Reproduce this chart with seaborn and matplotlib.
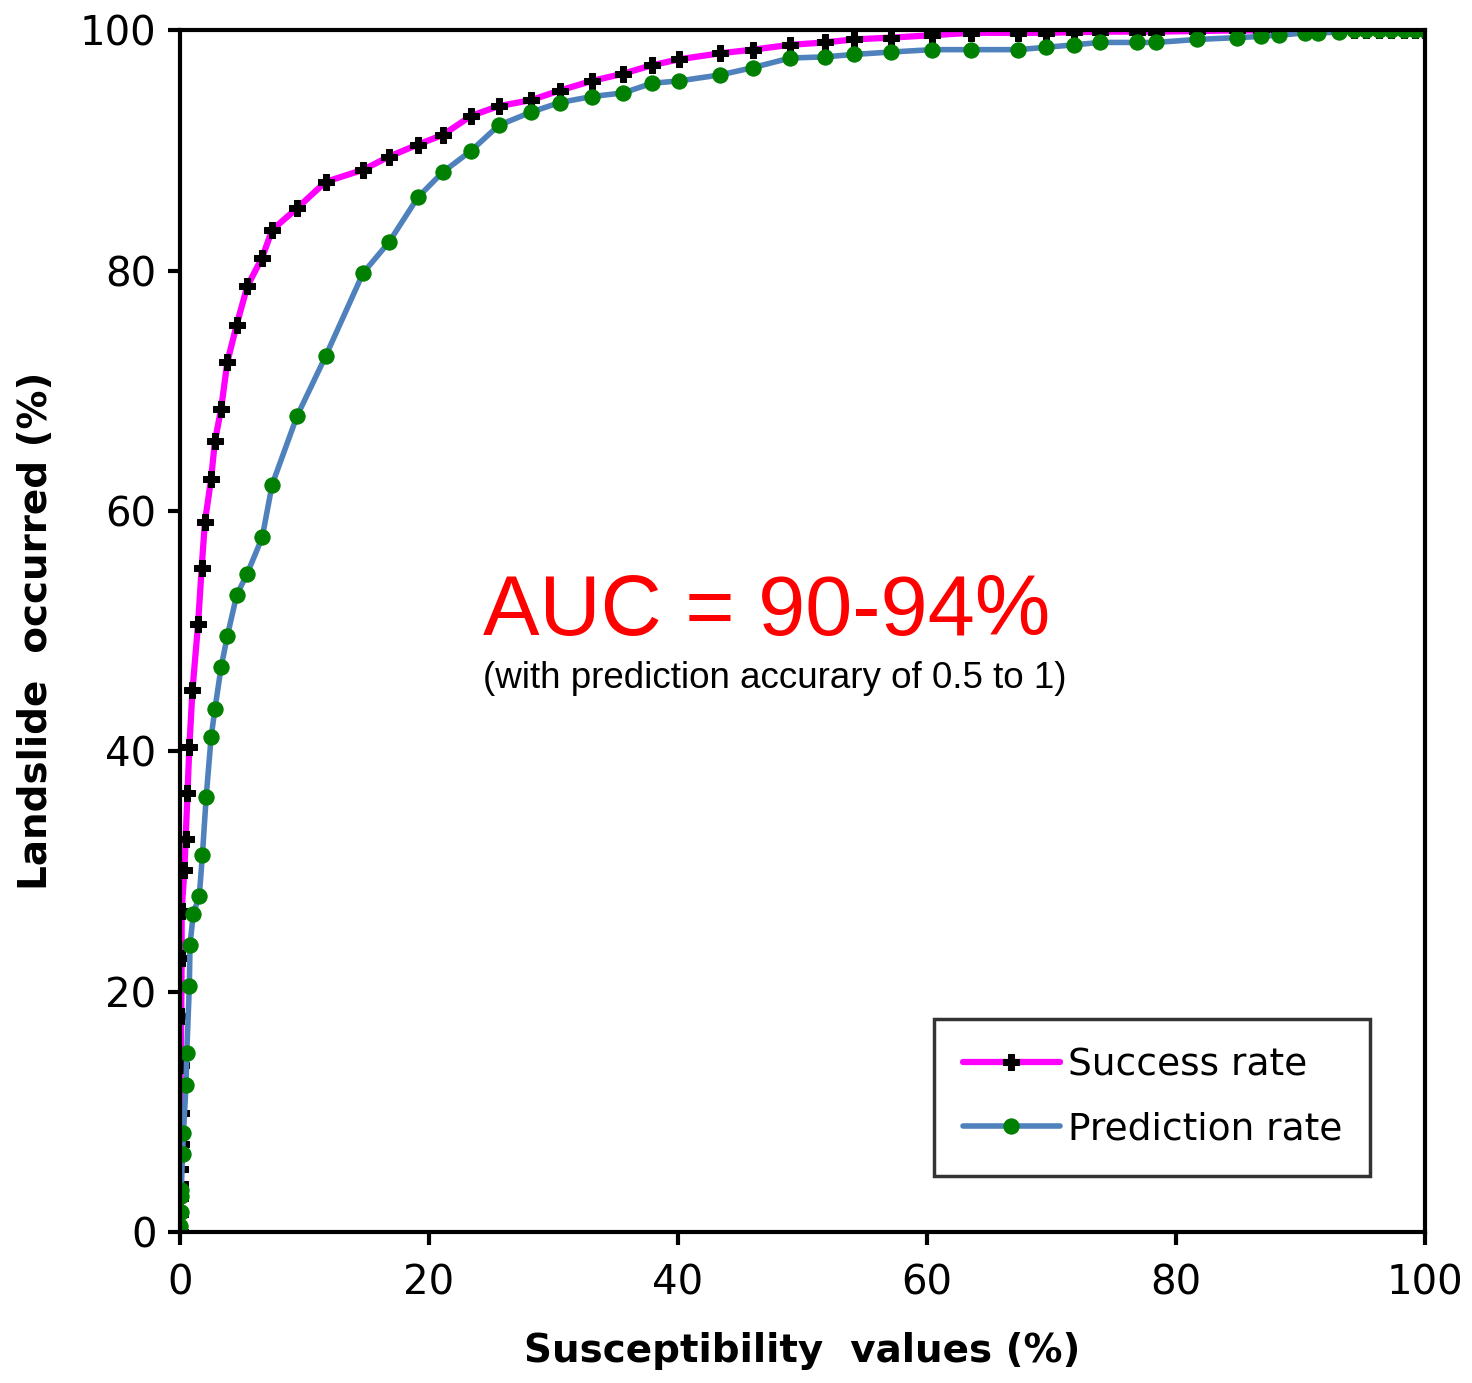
import seaborn as sns
import matplotlib.pyplot as plt
import pandas as pd
import numpy as np

sns.set_theme(style="white")
plt.rcParams["font.family"] = ["DejaVu Sans"]

# Curva de éxito (success rate)
success_x = [0, 0, 0, 0, 0, 0.05, 0.05, 0.05, 0.1, 0.13, 0.13, 0.35, 0.45, 0.6, 0.75, 1.0,
             1.45, 1.74, 2.0, 2.5, 2.8, 3.3, 3.8, 4.55, 5.4, 6.6, 7.4, 9.4, 11.7, 14.7, 16.8,
             19.1, 21.1, 23.4, 25.6, 28.2, 30.5, 33.1, 35.6, 37.9, 40.1, 43.4, 46.0, 49.0,
             51.8, 54.1, 57.1, 60.4, 63.5, 67.3, 69.6, 71.8, 73.9, 76.9, 78.4, 81.7, 84.9,
             86.8, 88.3, 90.4, 91.4, 93.1, 94.3, 95.3, 96.3, 97.3, 98.3, 99.2, 100]
success_y = [0, 1.5, 2.8, 4.0, 5.2, 7.3, 9.9, 13.9, 18.0, 22.8, 26.7, 30.1, 32.7, 36.5, 40.4,
             45.1, 50.6, 55.3, 59.1, 62.7, 65.8, 68.5, 72.4, 75.5, 78.7, 81.1, 83.4, 85.2,
             87.4, 88.4, 89.5, 90.5, 91.3, 92.9, 93.7, 94.2, 95.0, 95.8, 96.4, 97.1, 97.6,
             98.1, 98.4, 98.8, 99.0, 99.25, 99.4, 99.6, 99.8, 99.8, 99.8, 99.85, 99.9, 99.9,
             99.9, 99.95, 100, 100, 100, 100, 100, 100, 100, 100, 100, 100, 100, 100, 100]

# Curva de predicción (prediction rate)
pred_x = [0, 0, 0.05, 0.1, 0.1, 0.2, 0.27, 0.48, 0.54, 0.75, 0.8, 1.07, 1.55, 1.8, 2.1, 2.5,
          2.8, 3.3, 3.8, 4.55, 5.4, 6.6, 7.4, 9.4, 11.7, 14.7, 16.8, 19.1, 21.1, 23.4, 25.6,
          28.2, 30.5, 33.1, 35.6, 37.9, 40.1, 43.4, 46.0, 49.0, 51.8, 54.1, 57.1, 60.4, 63.5,
          67.3, 69.6, 71.8, 73.9, 76.9, 78.4, 81.7, 84.9, 86.8, 88.3, 90.4, 91.4, 93.1, 94.3,
          95.3, 96.3, 97.3, 98.3, 99.2, 100]
pred_y = [0, 0.5, 1.7, 3.0, 3.5, 6.5, 8.2, 12.2, 14.9, 20.5, 23.9, 26.5, 28.0, 31.4, 36.2,
          41.2, 43.5, 47.0, 49.6, 53.0, 54.8, 57.8, 62.2, 67.9, 72.9, 79.8, 82.4, 86.1, 88.2,
          90.0, 92.1, 93.2, 94.0, 94.5, 94.8, 95.6, 95.8, 96.3, 96.9, 97.7, 97.8, 98.0, 98.2,
          98.4, 98.4, 98.4, 98.6, 98.8, 99.0, 99.0, 99.0, 99.25, 99.4, 99.5, 99.6, 99.8, 99.8,
          99.85, 100, 100, 100, 100, 100, 100, 100]

ticks = [0, 20, 40, 60, 80, 100]

fig = plt.figure(figsize=(14.72, 13.83), dpi=100)
ax = fig.add_axes([0.1223, 0.1092, 0.8457, 0.8688])

sns.lineplot(x=success_x, y=success_y, estimator=None, sort=False, ax=ax,
             color="#FF00FF", linewidth=4.5, marker="P", markersize=11,
             markerfacecolor="black", markeredgecolor="black", label="Success rate")
sns.lineplot(x=pred_x, y=pred_y, estimator=None, sort=False, ax=ax,
             color="#4F81BD", linewidth=4, marker="o", markersize=11,
             markerfacecolor="#008000", markeredgecolor="#008000", label="Prediction rate")

ax.set_xlim(0, 100)
ax.set_ylim(0, 100)
ax.set_xticks(ticks)
ax.set_yticks(ticks)
ax.tick_params(axis="both", direction="out", length=9, width=3, color="black",
               labelcolor="black", labelsize=29, left=True, bottom=True)
ax.tick_params(axis="x", pad=14)
ax.tick_params(axis="y", pad=8)
for s in ax.spines.values():
    s.set_color("black")
    s.set_linewidth(3)

ax.set_xlabel("Susceptibility  values (%)", fontsize=28, fontweight="bold",
              color="black", labelpad=20)
ax.set_ylabel("Landslide  occurred (%)", fontsize=28, fontweight="bold",
              color="black", labelpad=18)

ax.text(24.3, 49.7, "AUC = 90-94%", color="#FF0000", fontsize=61,
        family="Liberation Sans", ha="left", va="baseline")
ax.text(24.3, 45.3, "(with prediction accurary of 0.5 to 1)", color="black", fontsize=26.5,
        family="Liberation Sans", ha="left", va="baseline")

leg = ax.legend(loc="lower right", bbox_to_anchor=(0.956, 0.047), fontsize=27,
                frameon=True, fancybox=False, handlelength=2.6, handletextpad=0.2,
                borderpad=0.75, labelspacing=0.75, borderaxespad=0)
leg.get_frame().set_edgecolor("black")
leg.get_frame().set_linewidth(2.5)
for t in leg.get_texts():
    t.set_color("black")

fig.savefig("out.png", dpi=100)
